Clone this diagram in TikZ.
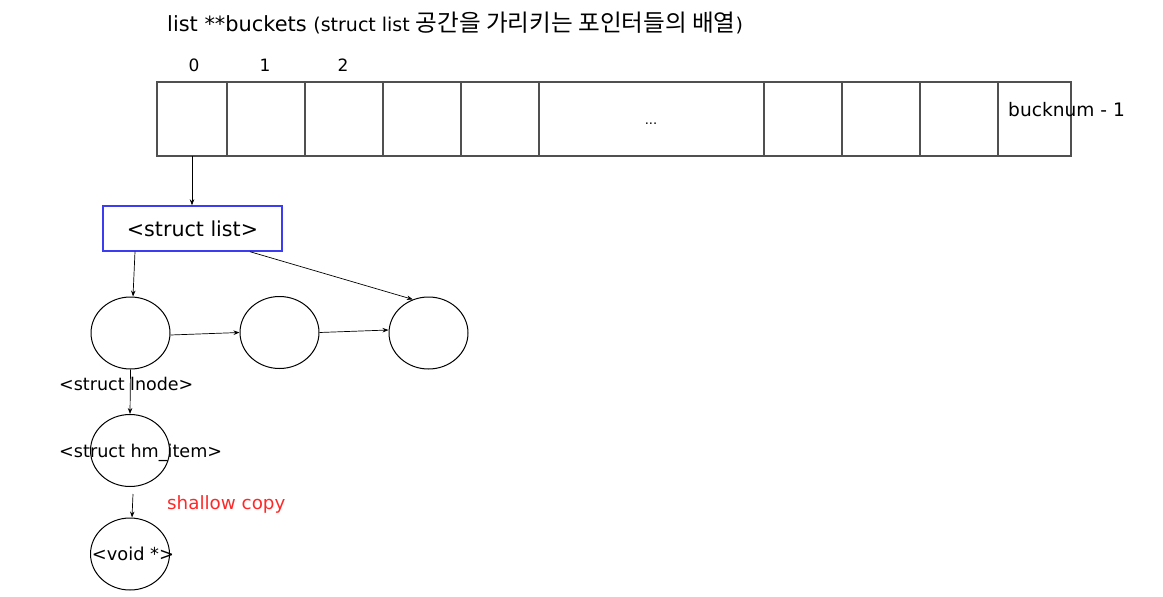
\documentclass[tikz,border=0pt]{standalone}
\usepackage{fontspec}
\setmainfont{DejaVu Sans}
\newfontfamily\kor{Noto Sans CJK KR}
\usetikzlibrary{arrows.meta,shapes.geometric}
\definecolor{cellgray}{RGB}{80,80,80}
\definecolor{boxblue}{RGB}{60,60,240}
\definecolor{copyred}{RGB}{255,40,40}
\newcommand{\fsz}[1]{\fontsize{#1}{#1}\selectfont}
\tikzset{
  x=1pt, y=-1pt,
  cell/.style={draw=cellgray, line width=1.4pt, minimum height=74pt, inner sep=0pt, outer sep=0pt},
  ring/.style={draw=black, line width=1pt, ellipse, minimum width=79pt, minimum height=72pt, inner sep=0pt},
  conn/.style={line width=0.7pt, -{Stealth[length=6pt,width=4.5pt]}},
  lbl/.style={inner sep=0pt},
}
\begin{document}
\begin{tikzpicture}
\useasboundingbox (0,0) rectangle (1163,597);
% title
\node[lbl, anchor=base west] (title) at (167,31)
  {\fsz{20.9}list **buckets {\fsz{19}(struct list {\kor\fsz{23.6}공간을 가리키는 포인터들의 배열})}};
% indices
\node[lbl, anchor=base, font=\fsz{17}] (i0) at (194,71) {0};
\node[lbl, anchor=base, font=\fsz{17}] (i1) at (265,71) {1};
\node[lbl, anchor=base, font=\fsz{17}] (i2) at (343,71) {2};
% array cells
\foreach \a/\b/\n in {157/227/c0,227/305/c1,305/383/c2,383/461/c3,461/539/c4,539/764/c5,764/842/c6,842/920/c7,920/998/c8,998/1071/c9}{
  \node[cell, minimum width={(\b-\a)*1pt}, anchor=north west] (\n) at (\a,82) {};
}
\node[lbl, anchor=base, font=\fsz{13}] (dots) at (651,124) {...};
\node[lbl, anchor=base west, font=\fsz{18.6}] (bn) at (1008,116) {bucknum - 1};
% struct list box
\node[draw=boxblue, line width=1.4pt, minimum width=179pt, minimum height=45pt, inner sep=0pt,
      font=\fsz{20.6}] (sl) at (192.5,228.5) {<struct list>};
\draw[conn] (c0.south -| 192,0) -- (sl.north -| 192,0);
% list nodes
\node[ring] (n1) at (130.5,333) {};
\node[ring] (n2) at (279.5,332.5) {};
\node[ring] (n3) at (428.5,333) {};
\draw[conn] (sl.south -| 135,0) -- (n1.north -| 133,0);
\draw[conn] (sl.south -| 250,0) -- (n3.115);
\draw[conn] ([yshift=-2pt]n1.east) -- (n2.west);
\draw[conn] (n2.east) -- ([yshift=3pt]n3.west);
\node[lbl, anchor=base west, font=\fsz{17.5}] (lnode) at (59,390) {<struct lnode>};
% hm_item
\node[ring] (hm) at (130,450.5) {};
\node[lbl, anchor=base west, font=\fsz{17.6}] (hmt) at (59,457) {<struct hm\_item>};
\draw[conn] (n1.south) -- (hm.north);
% void
\node[ring] (vd) at (130,554) {};
\node[lbl, font=\fsz{17.8}] (vdt) at (133,554) {<void *>};
\draw[conn] ([xshift=3pt,yshift=-7pt]hm.south) -- ([xshift=2pt]vd.north);
\node[lbl, anchor=base west, text=copyred, font=\fsz{18.3}] (sc) at (167,509) {shallow copy};
\end{tikzpicture}
\end{document}
